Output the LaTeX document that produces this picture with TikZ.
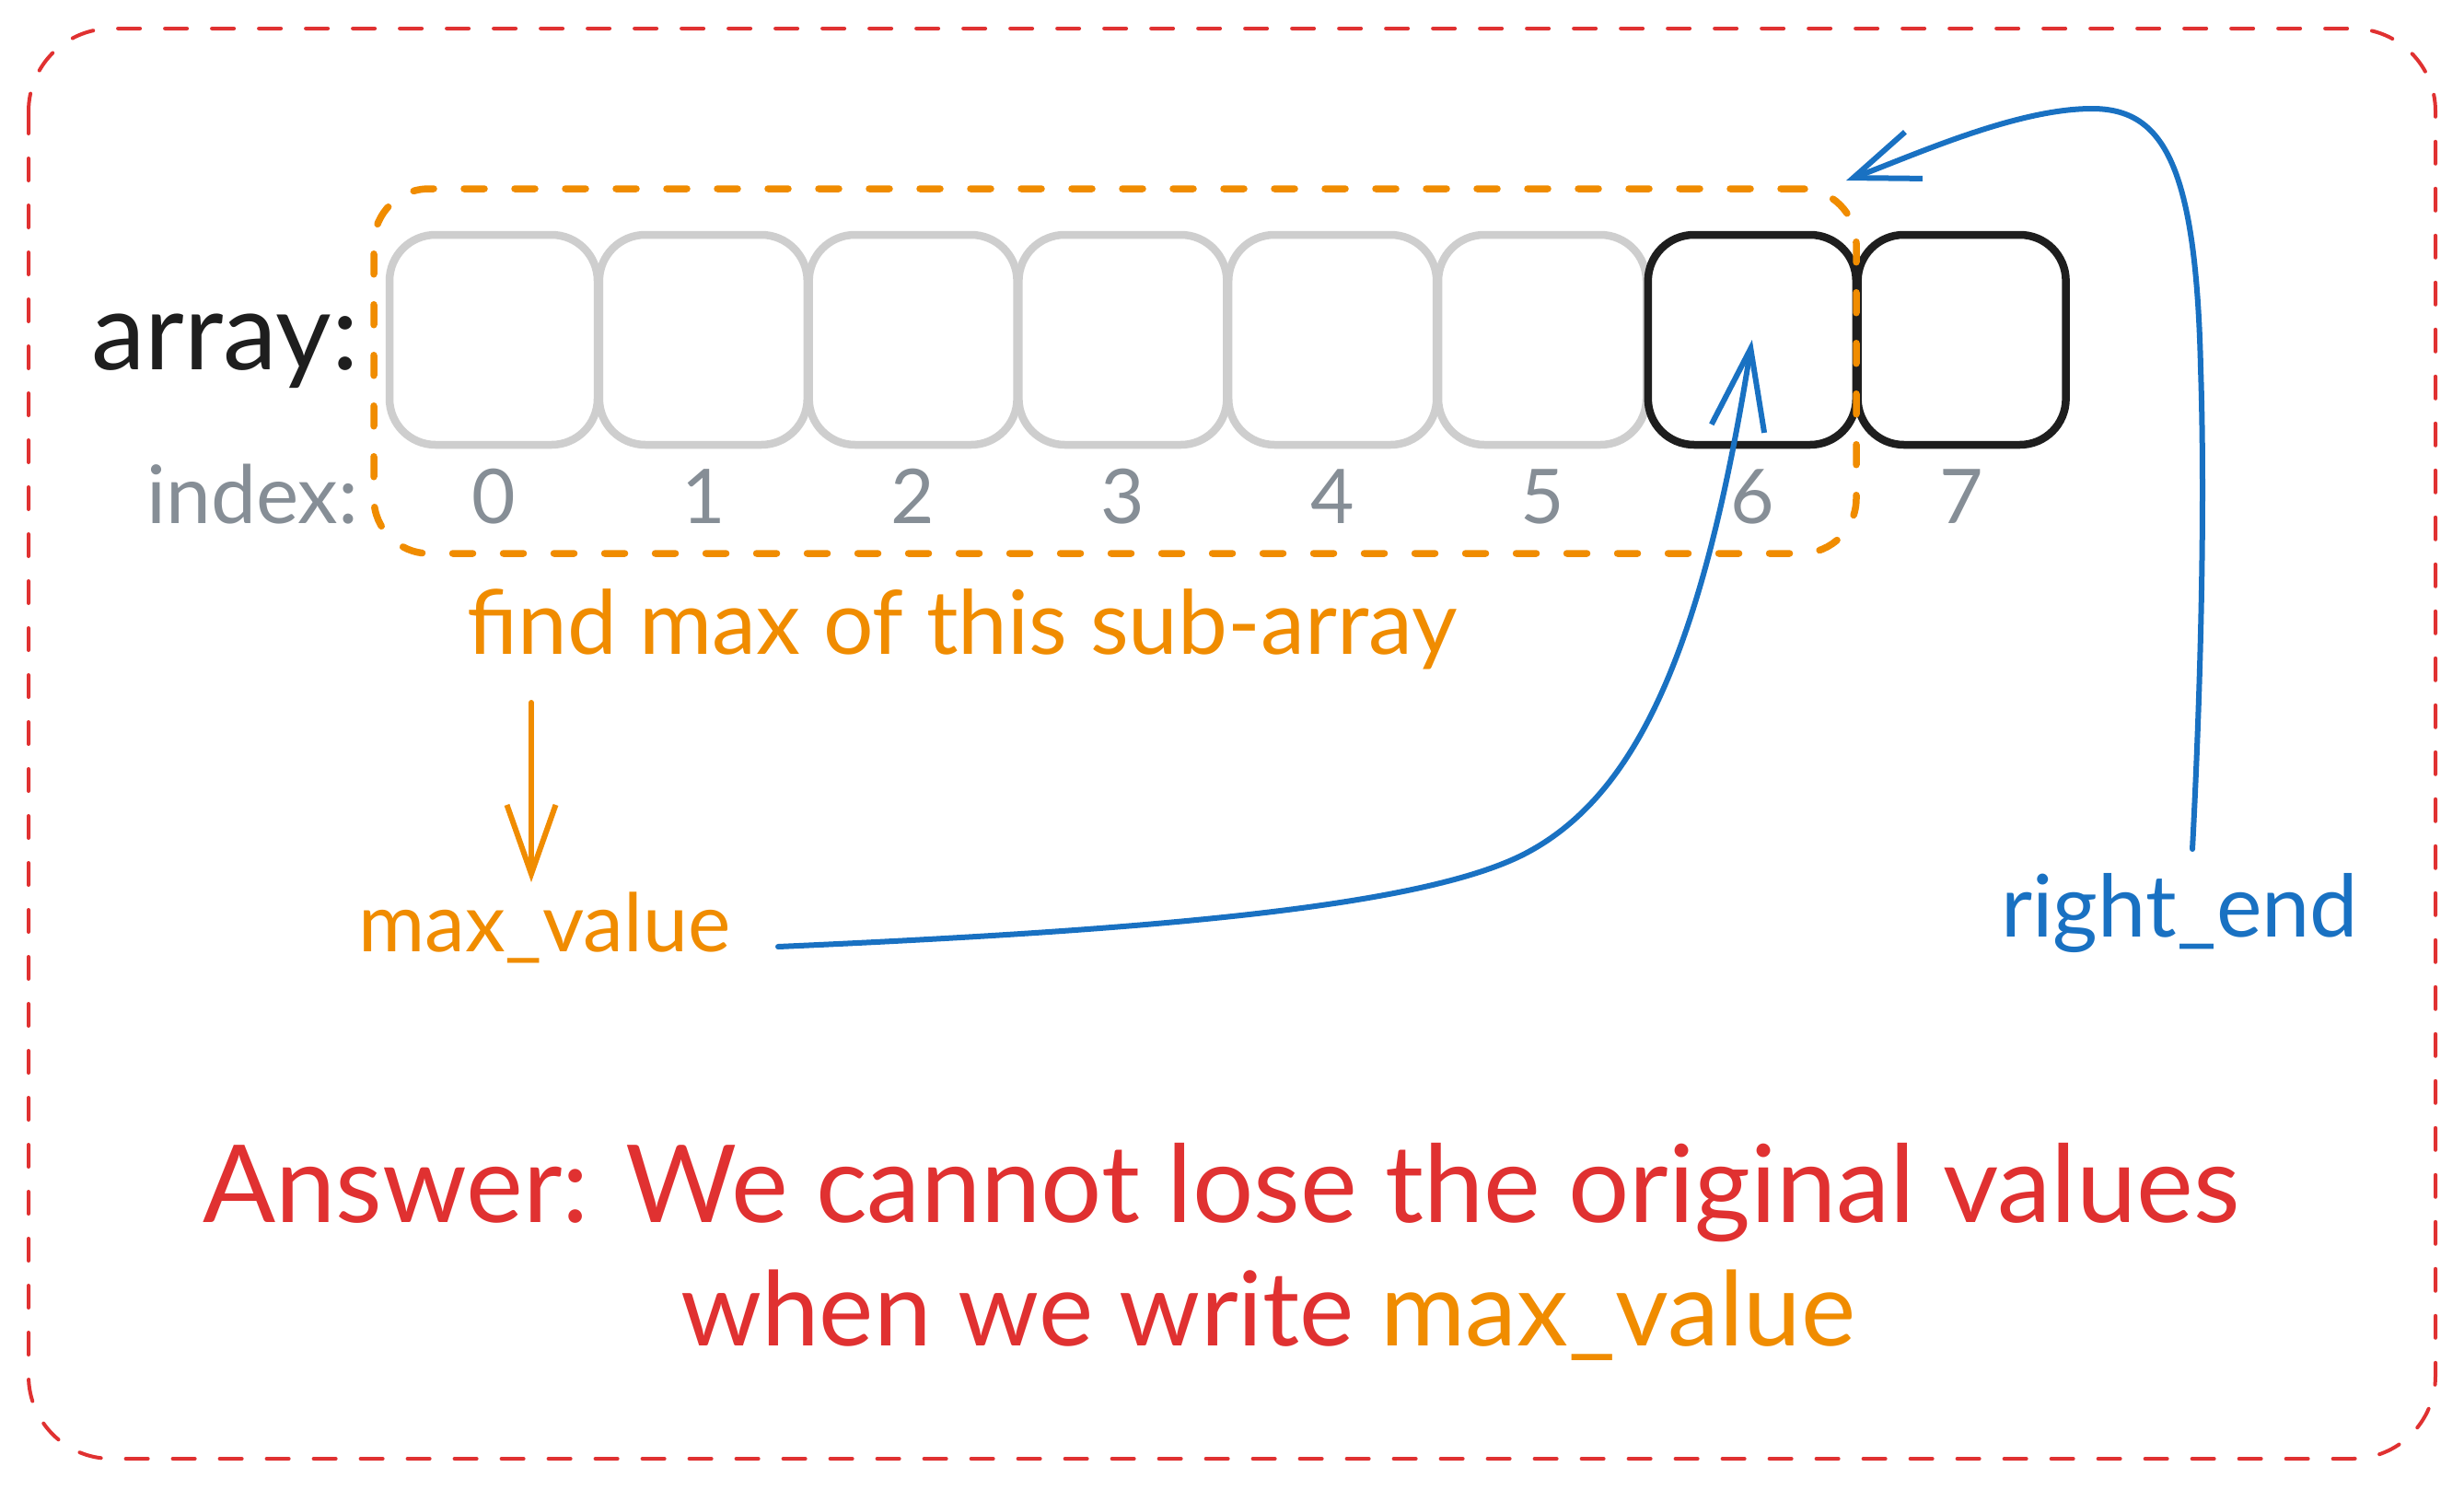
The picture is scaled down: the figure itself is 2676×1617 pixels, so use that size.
\documentclass[tikz,border=0pt]{standalone}
\usepackage{fontspec}
\setmainfont{Lato}
\usetikzlibrary{arrows.meta}
\definecolor{exred}{HTML}{E03131}
\definecolor{exorange}{HTML}{F08C00}
\definecolor{exblue}{HTML}{1971C2}
\definecolor{exgray}{HTML}{868E96}
\definecolor{exblack}{HTML}{1E1E1E}
\definecolor{cellgray}{RGB}{206,206,206}
\newcommand{\fitw}[2]{\resizebox{#1}{!}{#2}}
\begin{document}
\begin{tikzpicture}[x=1pt,y=-1pt,
  cell/.style={rectangle, rounded corners=50pt, minimum width=226pt, minimum height=228pt, line width=8.5pt, inner sep=0pt},
  txt/.style={anchor=base west, inner sep=0pt, font=\fontsize{40}{48}\selectfont},
  idxnum/.style={anchor=base, inner sep=0pt, text=exgray, font=\fontsize{82}{96}\selectfont},
  reddash/.style={draw=exred, line width=4pt, line cap=round, dash pattern=on 24pt off 27pt, rounded corners=90pt},
  subbox/.style={draw=exorange, line width=7.5pt, line cap=round, dash pattern=on 22pt off 33pt, rounded corners=60pt, rectangle, inner sep=0pt},
  barrow/.style={draw=exblue, line width=6pt, line cap=round, line join=round},
  oarrow/.style={draw=exorange, line width=6pt, line cap=round, line join=round}
]
\useasboundingbox[fill=white] (0,0) rectangle (2676,1617);
% outer frame
\draw[reddash] (31,31) rectangle (2645,1584);
% cells
\foreach \i in {0,...,5}
  \node[cell, draw=cellgray] (b\i) at ({536+227.8*\i},369) {};
\foreach \i in {6,7}
  \node[cell, draw=exblack] (b\i) at ({536+227.8*\i},369) {};
% index digits
\foreach \i in {0,...,7}
  \node[idxnum] (n\i) at ({536+227.8*\i},568) {\i};
% sub-array box
\node[subbox, minimum width=1610pt, minimum height=396pt] (sub) at (1211,403) {};
% texts
\node[txt, text=exblack] (arr) at (99,401) {\fitw{290pt}{array:}};
\node[txt, text=exgray] (idx) at (159,568) {\fitw{230pt}{index:}};
\node[txt, text=exorange] (find) at (507,710) {\fitw{1075pt}{find max of this sub-array}};
\node[txt, text=exorange] (maxv) at (389,1033) {\fitw{404pt}{max\_value}};
\node[txt, text=exblue] (rend) at (2173,1017) {\fitw{388pt}{right\_end}};
\node[txt, text=exred] (ans1) at (220,1327) {\fitw{2212pt}{Answer: We cannot lose the original values}};
\node[txt, text=exred] (ans2) at (739,1461) {\fitw{1276pt}{when we write \textcolor{exorange}{max\_value}}};
% orange arrow find -> max_value
\coordinate (oa1) at (577,763);
\coordinate (oa2) at (577,958);
\draw[oarrow, -{Straight Barb[length=75pt,width=53pt]}] (oa1) -- (oa2);
% blue arrow max_value -> cell 6
\coordinate (bs) at (845,1028);
\draw[barrow, -{Straight Barb[length=88pt,width=58pt]}] (bs)
  .. controls (1250,1010) and (1550,985) .. (1660,925)
  .. controls (1780,860) and (1850,700) .. (b6.center);
% blue arrow right_end -> sub-array box
\coordinate (rs) at (2381,922);
\coordinate (rt) at (2005,196);
\draw[barrow, -{Straight Barb[length=70pt,width=54pt]}] (rs)
  .. controls (2390,750) and (2395,550) .. (2390,400)
  .. controls (2385,180) and (2350,118) .. (2272,118)
  .. controls (2190,118) and (2080,168) .. (rt);
\end{tikzpicture}
\end{document}
